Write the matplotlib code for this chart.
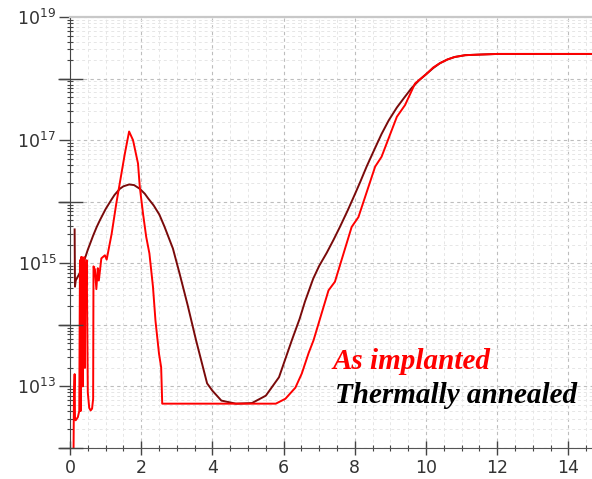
import numpy as np
import matplotlib.pyplot as plt
from matplotlib.ticker import FixedLocator, FuncFormatter, MultipleLocator, LogLocator, NullLocator

# --- datos (profundidad, log10 de la concentración) ---
x_impl = [0.10, 0.11, 0.13, 0.14, 0.16, 0.22, 0.26, 0.28, 0.30, 0.31,
          0.33, 0.34, 0.36, 0.37, 0.39, 0.40, 0.42, 0.43, 0.45, 0.47,
          0.50, 0.54, 0.58, 0.62, 0.65, 0.66, 0.70, 0.74, 0.78, 0.81,
          0.88, 0.98, 1.03, 1.17, 1.30, 1.54, 1.66, 1.77, 1.91, 1.96,
          2.05, 2.14, 2.23, 2.33, 2.40, 2.50, 2.56, 2.59, 4.00, 5.78,
          6.05, 6.33, 6.51, 6.70, 6.84, 7.26, 7.44, 7.91, 8.10, 8.57,
          8.75, 9.18, 9.41, 9.69, 10.02, 10.20, 10.39, 10.60, 10.80, 11.10,
          11.52, 12.00, 14.70]
log_impl = [12.0, 12.8, 13.2, 12.5, 12.45, 12.5, 12.6, 15.05, 12.6, 15.1,
            13.4, 15.1, 13.0, 15.05, 14.0, 15.1, 13.3, 15.0, 14.6, 15.05,
            12.9, 12.65, 12.61, 12.64, 12.8, 14.95, 14.9, 14.58, 14.92, 14.72,
            15.08, 15.13, 15.06, 15.48, 15.97, 16.78, 17.14, 17.0, 16.62, 16.24,
            15.81, 15.43, 15.16, 14.62, 14.07, 13.53, 13.31, 12.72, 12.72, 12.72,
            12.80, 12.98, 13.21, 13.54, 13.75, 14.56, 14.70, 15.59, 15.75, 16.57,
            16.73, 17.38, 17.57, 17.92, 18.08, 18.18, 18.25, 18.31, 18.35, 18.38,
            18.39, 18.40, 18.40]

x_ann = [0.13, 0.14, 0.16, 0.28, 0.42, 0.50, 0.65, 0.75, 0.84, 1.00,
         1.16, 1.25, 1.40, 1.50, 1.66, 1.80, 1.96, 2.10, 2.20, 2.35,
         2.51, 2.65, 2.89, 3.07, 3.30, 3.54, 3.85, 4.00, 4.25, 4.66,
         5.11, 5.50, 5.87, 6.23, 6.45, 6.60, 6.83, 7.00, 7.21, 7.40,
         7.58, 7.80, 8.00, 8.15, 8.33, 8.55, 8.75, 8.95, 9.18, 9.40,
         9.60, 9.80, 10.02, 10.20, 10.39, 10.60, 10.80, 11.10, 11.52, 12.00,
         14.70]
log_ann = [15.55, 14.62, 14.72, 14.85, 15.08, 15.22, 15.45, 15.59, 15.70, 15.88,
           16.03, 16.11, 16.21, 16.25, 16.28, 16.27, 16.21, 16.13, 16.05, 15.94,
           15.79, 15.60, 15.24, 14.85, 14.33, 13.75, 13.05, 12.93, 12.77, 12.72,
           12.73, 12.85, 13.15, 13.75, 14.10, 14.38, 14.75, 14.96, 15.17, 15.38,
           15.59, 15.86, 16.12, 16.32, 16.57, 16.85, 17.10, 17.32, 17.53, 17.70,
           17.85, 17.97, 18.08, 18.17, 18.25, 18.31, 18.35, 18.38, 18.39, 18.40,
           18.40]

decadas = [12, 13, 14, 15, 16, 17, 18, 19]
decadas_con_etiqueta = [13, 15, 17, 19]
decadas_sin_etiqueta = [12, 14, 16, 18]
x_ticks = [0, 2, 4, 6, 8, 10, 12, 14]

etiqueta_impl = "As implanted"
etiqueta_ann = "Thermally annealed"

# --- figura ---
fig = plt.figure(figsize=(5.92, 4.79), dpi=100)
rect = [70 / 592, 1 - 448 / 479, 1 - 70 / 592, (448 - 17) / 479]
ax = fig.add_axes(rect)

ax.plot(x_ann, 10.0 ** np.array(log_ann), color="#7a0a0a", lw=1.4)
ax.plot(x_impl, 10.0 ** np.array(log_impl), color="#ff0000", lw=1.4)

ax.set_yscale("log")
ax.set_ylim(1e12, 1e19)
ax.set_xlim(0, 14.66)

ax.yaxis.set_major_locator(FixedLocator([10.0 ** d for d in decadas]))
ax.yaxis.set_major_formatter(FuncFormatter(
    lambda v, p: r"$10^{%d}$" % round(np.log10(v)) if round(np.log10(v)) in decadas_con_etiqueta else ""))
ax.yaxis.set_minor_locator(LogLocator(base=10, subs=np.arange(2, 10), numticks=20))
ax.xaxis.set_major_locator(FixedLocator(x_ticks))
ax.xaxis.set_minor_locator(MultipleLocator(0.5))

ax.grid(True, which="major", color="#bdbdbd", linestyle=(0, (3, 3)), lw=0.8)
ax.grid(True, which="minor", color="#e6e6e6", linestyle=(0, (3, 3)), lw=0.7)
ax.set_axisbelow(True)

ax.tick_params(axis="y", which="major", direction="out", length=8, width=1.0, color="#444444",
               labelsize=12.5, labelcolor="#333333", pad=2)
ax.tick_params(axis="x", which="major", direction="inout", length=10, width=1.0, color="#444444",
               labelsize=12.5, labelcolor="#333333", pad=3)
ax.tick_params(which="minor", direction="inout", length=4, width=0.8, color="#444444")

ax.spines["right"].set_visible(False)
ax.spines["top"].set_color("#c8c8c8")
ax.spines["top"].set_linewidth(1.6)
ax.spines["left"].set_color("#444444")
ax.spines["bottom"].set_color("#555555")

# marcas largas en las décadas sin etiqueta
ax_marcas = fig.add_axes(rect, frameon=False)
ax_marcas.set_yscale("log")
ax_marcas.set_ylim(1e12, 1e19)
ax_marcas.yaxis.set_major_locator(FixedLocator([10.0 ** d for d in decadas_sin_etiqueta]))
ax_marcas.yaxis.set_minor_locator(NullLocator())
ax_marcas.xaxis.set_visible(False)
ax_marcas.tick_params(axis="y", direction="inout", length=18, width=1.0, color="#444444", labelleft=False)
ax_marcas.patch.set_visible(False)

fuente = dict(family=["Liberation Serif", "DejaVu Serif"], weight="bold", style="italic", size=21)
fig.text(333 / 592, 1 - 369 / 479, etiqueta_impl, color="#ff0000", ha="left", va="baseline", **fuente)
fig.text(335 / 592, 1 - 403 / 479, etiqueta_ann, color="black", ha="left", va="baseline", **fuente)

fig.savefig("out.png", dpi=100)
